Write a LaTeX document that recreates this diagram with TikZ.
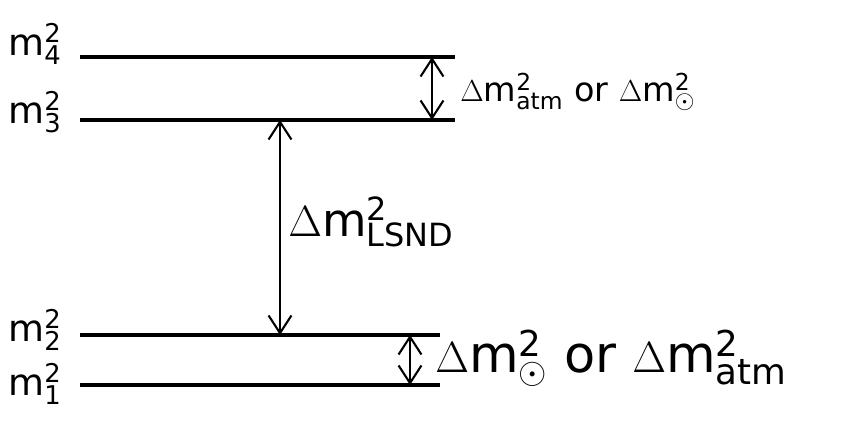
\documentclass[tikz,border=0pt]{standalone}
\usepackage{fontspec}
\setmainfont{DejaVu Sans}
\usetikzlibrary{arrows.meta}
\tikzset{
  level/.style={line width=2.2pt},
  gap/.style={{Straight Barb[length=10pt,width=13pt]}-{Straight Barb[length=10pt,width=13pt]}, line width=1.2pt},
  masslabel/.style={anchor=east, inner sep=0pt, font=\fontsize{21}{24}\selectfont},
  splitlabel/.style={anchor=west, inner sep=0pt, font=\fontsize{19}{22}\selectfont}
}
\newcommand{\sq}{\mathrm{2}}
\begin{document}
\begin{tikzpicture}[x=0.02cm, y=-0.02cm]
    \useasboundingbox (0,0) rectangle (847,428);

    % the four levels
    \draw[level] (80,57) coordinate (lfour) -- (455,57) coordinate (rfour);
    \draw[level] (80,120) coordinate (lthree) -- (455,120) coordinate (rthree);
    \draw[level] (80,335) coordinate (ltwo) -- (440,335) coordinate (rtwo);
    \draw[level] (80,385) coordinate (lone) -- (440,385) coordinate (rone);

    \node[masslabel] (mfour) at (62,44) {m$_{\mathrm{4}}^{\sq}$};
    \node[masslabel] (mthree) at (62,112) {m$_{\mathrm{3}}^{\sq}$};
    \node[masslabel] (mtwo) at (62,330) {m$_{\mathrm{2}}^{\sq}$};
    \node[masslabel] (mone) at (62,384) {m$_{\mathrm{1}}^{\sq}$};

    % splittings
    \coordinate (atop) at (432,57);
    \coordinate (abot) at (432,120);
    \coordinate (ltop) at (280,120);
    \coordinate (lbot) at (280,335);
    \coordinate (stop) at (410,335);
    \coordinate (sbot) at (410,385);
    \draw[gap] (atop) -- (abot);
    \draw[gap] (ltop) -- (lbot);
    \draw[gap] (stop) -- (sbot);

    \node[splitlabel] (upper) at (460,92) {$\Delta$m$^{\sq}_{\mathrm{atm}}$ or $\Delta$m$^{\sq}_{\odot}$};
    \node[splitlabel, font=\fontsize{26}{30}\selectfont] (lsnd) at (288,222) {$\Delta$m$^{\sq}_{\mathrm{LSND}}$};
    \node[splitlabel, font=\fontsize{29}{32}\selectfont] (lower) at (435,358) {$\Delta$m$_{\odot}^{\sq}$ or $\Delta$m$^{\sq}_{\mathrm{atm}}$};
\end{tikzpicture}
\end{document}
